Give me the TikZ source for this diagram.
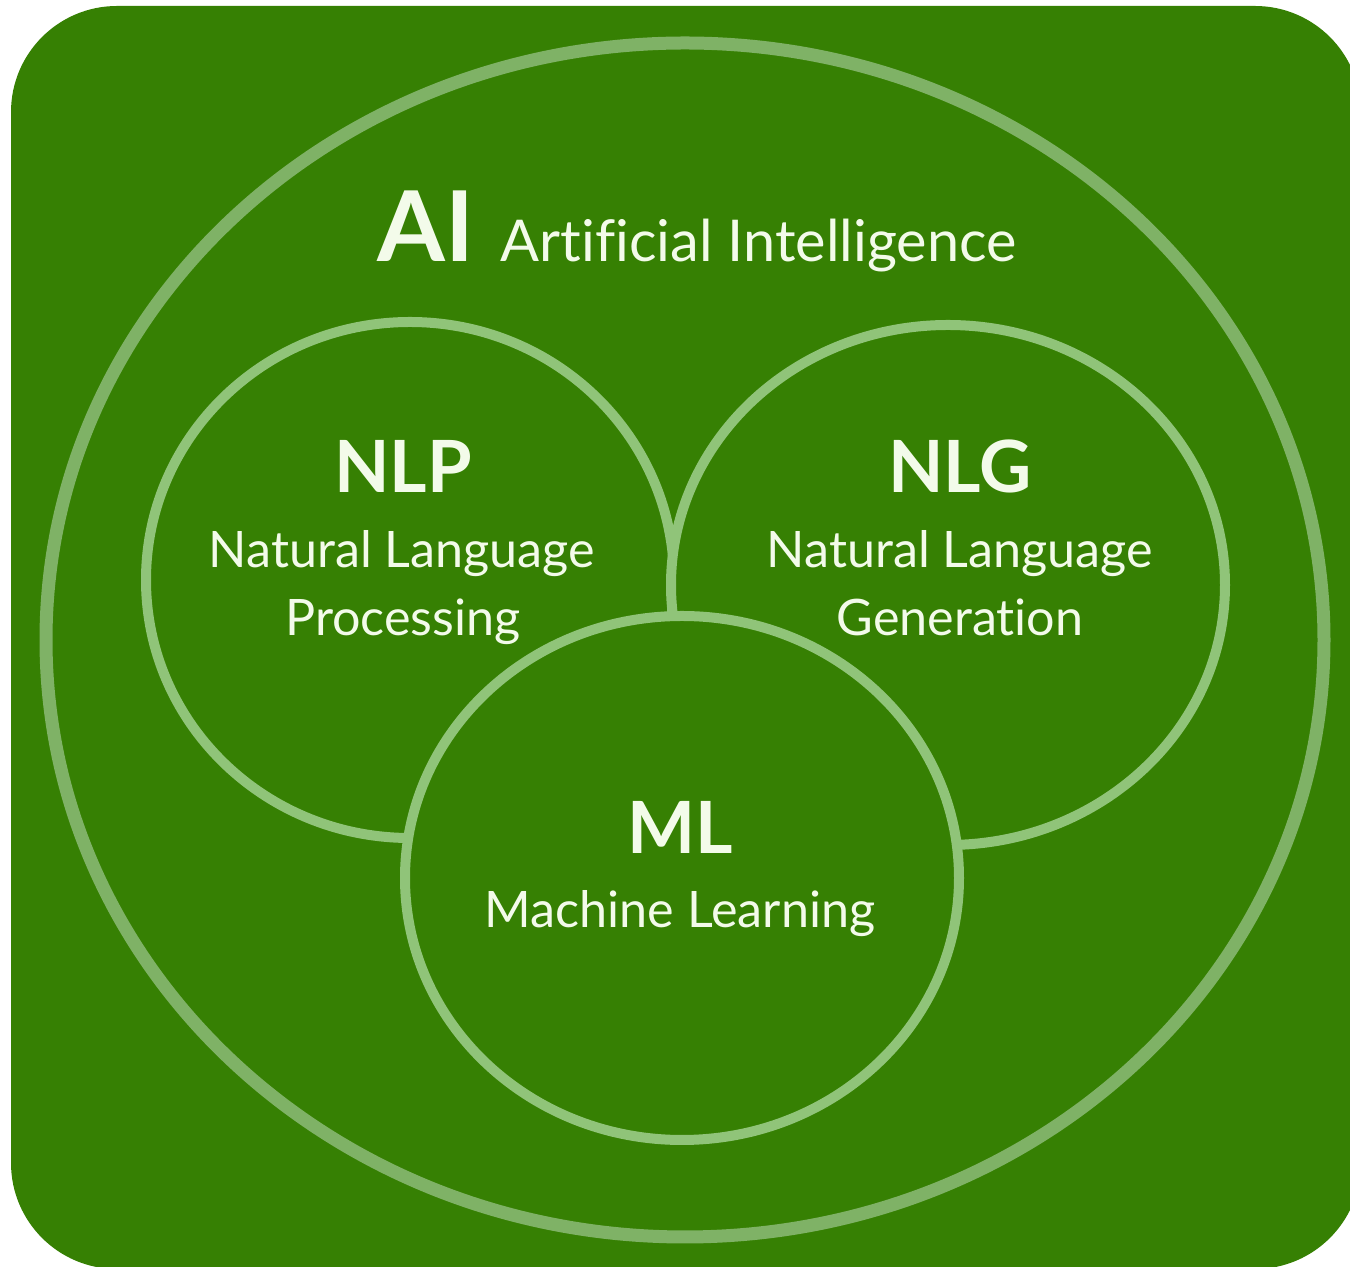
\documentclass[tikz,border=0pt]{standalone}
\usepackage{tikz}
\usepackage{xcolor}
\usepackage{fontspec}
\setmainfont{Lato}[Ligatures=NoCommon]

\definecolor{leafgreen}{HTML}{368003}
\definecolor{ringouter}{HTML}{7FB266}
\definecolor{ringinner}{HTML}{90C479}
\definecolor{paletext}{HTML}{F3FBEA}

\tikzset{
	ring/.style = {fill=leafgreen, draw=ringinner, line width=0.10cm},
	bigtag/.style = {text=paletext, anchor=base, inner sep=0pt, font=\bfseries\fontsize{20.5}{24}\selectfont},
	smalltag/.style = {text=paletext, anchor=base, inner sep=0pt, font=\fontsize{14.3}{17}\selectfont}
}

\begin{document}
\begin{tikzpicture}
	\useasboundingbox (0,0) rectangle (13.5,12.67);
	\clip (0,0) rectangle (13.5,12.67);
	\begin{scope}
    \fill[leafgreen, rounded corners=1.06cm] (0.11,-0.02) rectangle (13.61,12.61);

    \draw[draw=ringouter, line width=0.13cm] (6.85,6.27) ellipse (6.39 and 5.97);

    \draw[ring] (4.10,6.87) ellipse (2.64 and 2.58);
    \draw[ring] (9.48,6.82) ellipse (2.77 and 2.60);
    \draw[ring] (6.82,3.89) ellipse (2.77 and 2.62);

    \node[text=paletext, anchor=base west, inner sep=0pt, font=\bfseries\fontsize{27.8}{32}\selectfont] (ai) at (3.77,10.05) {AI};
    \node[text=paletext, anchor=base west, inner sep=0pt, font=\fontsize{16.4}{20}\selectfont] (aiName) at (5.00,10.05) {Artificial Intelligence};

    \node[bigtag] (nlp) at (4.03,7.74) {NLP};
    \node[smalltag] (nlpTop) at (4.02,6.99) {Natural Language};
    \node[smalltag] (nlpBottom) at (4.03,6.31) {Processing};

    \node[bigtag] (nlg) at (9.60,7.74) {NLG};
    \node[smalltag] (nlgTop) at (9.60,6.99) {Natural Language};
    \node[smalltag] (nlgBottom) at (9.60,6.31) {Generation};

    \node[bigtag] (ml) at (6.80,4.13) {ML};
    \node[smalltag] (mlName) at (6.80,3.39) {Machine Learning};

    % \draw[help lines] (0,0) grid (13.5,12.67);
    \end{scope}
\end{tikzpicture}
\end{document}
